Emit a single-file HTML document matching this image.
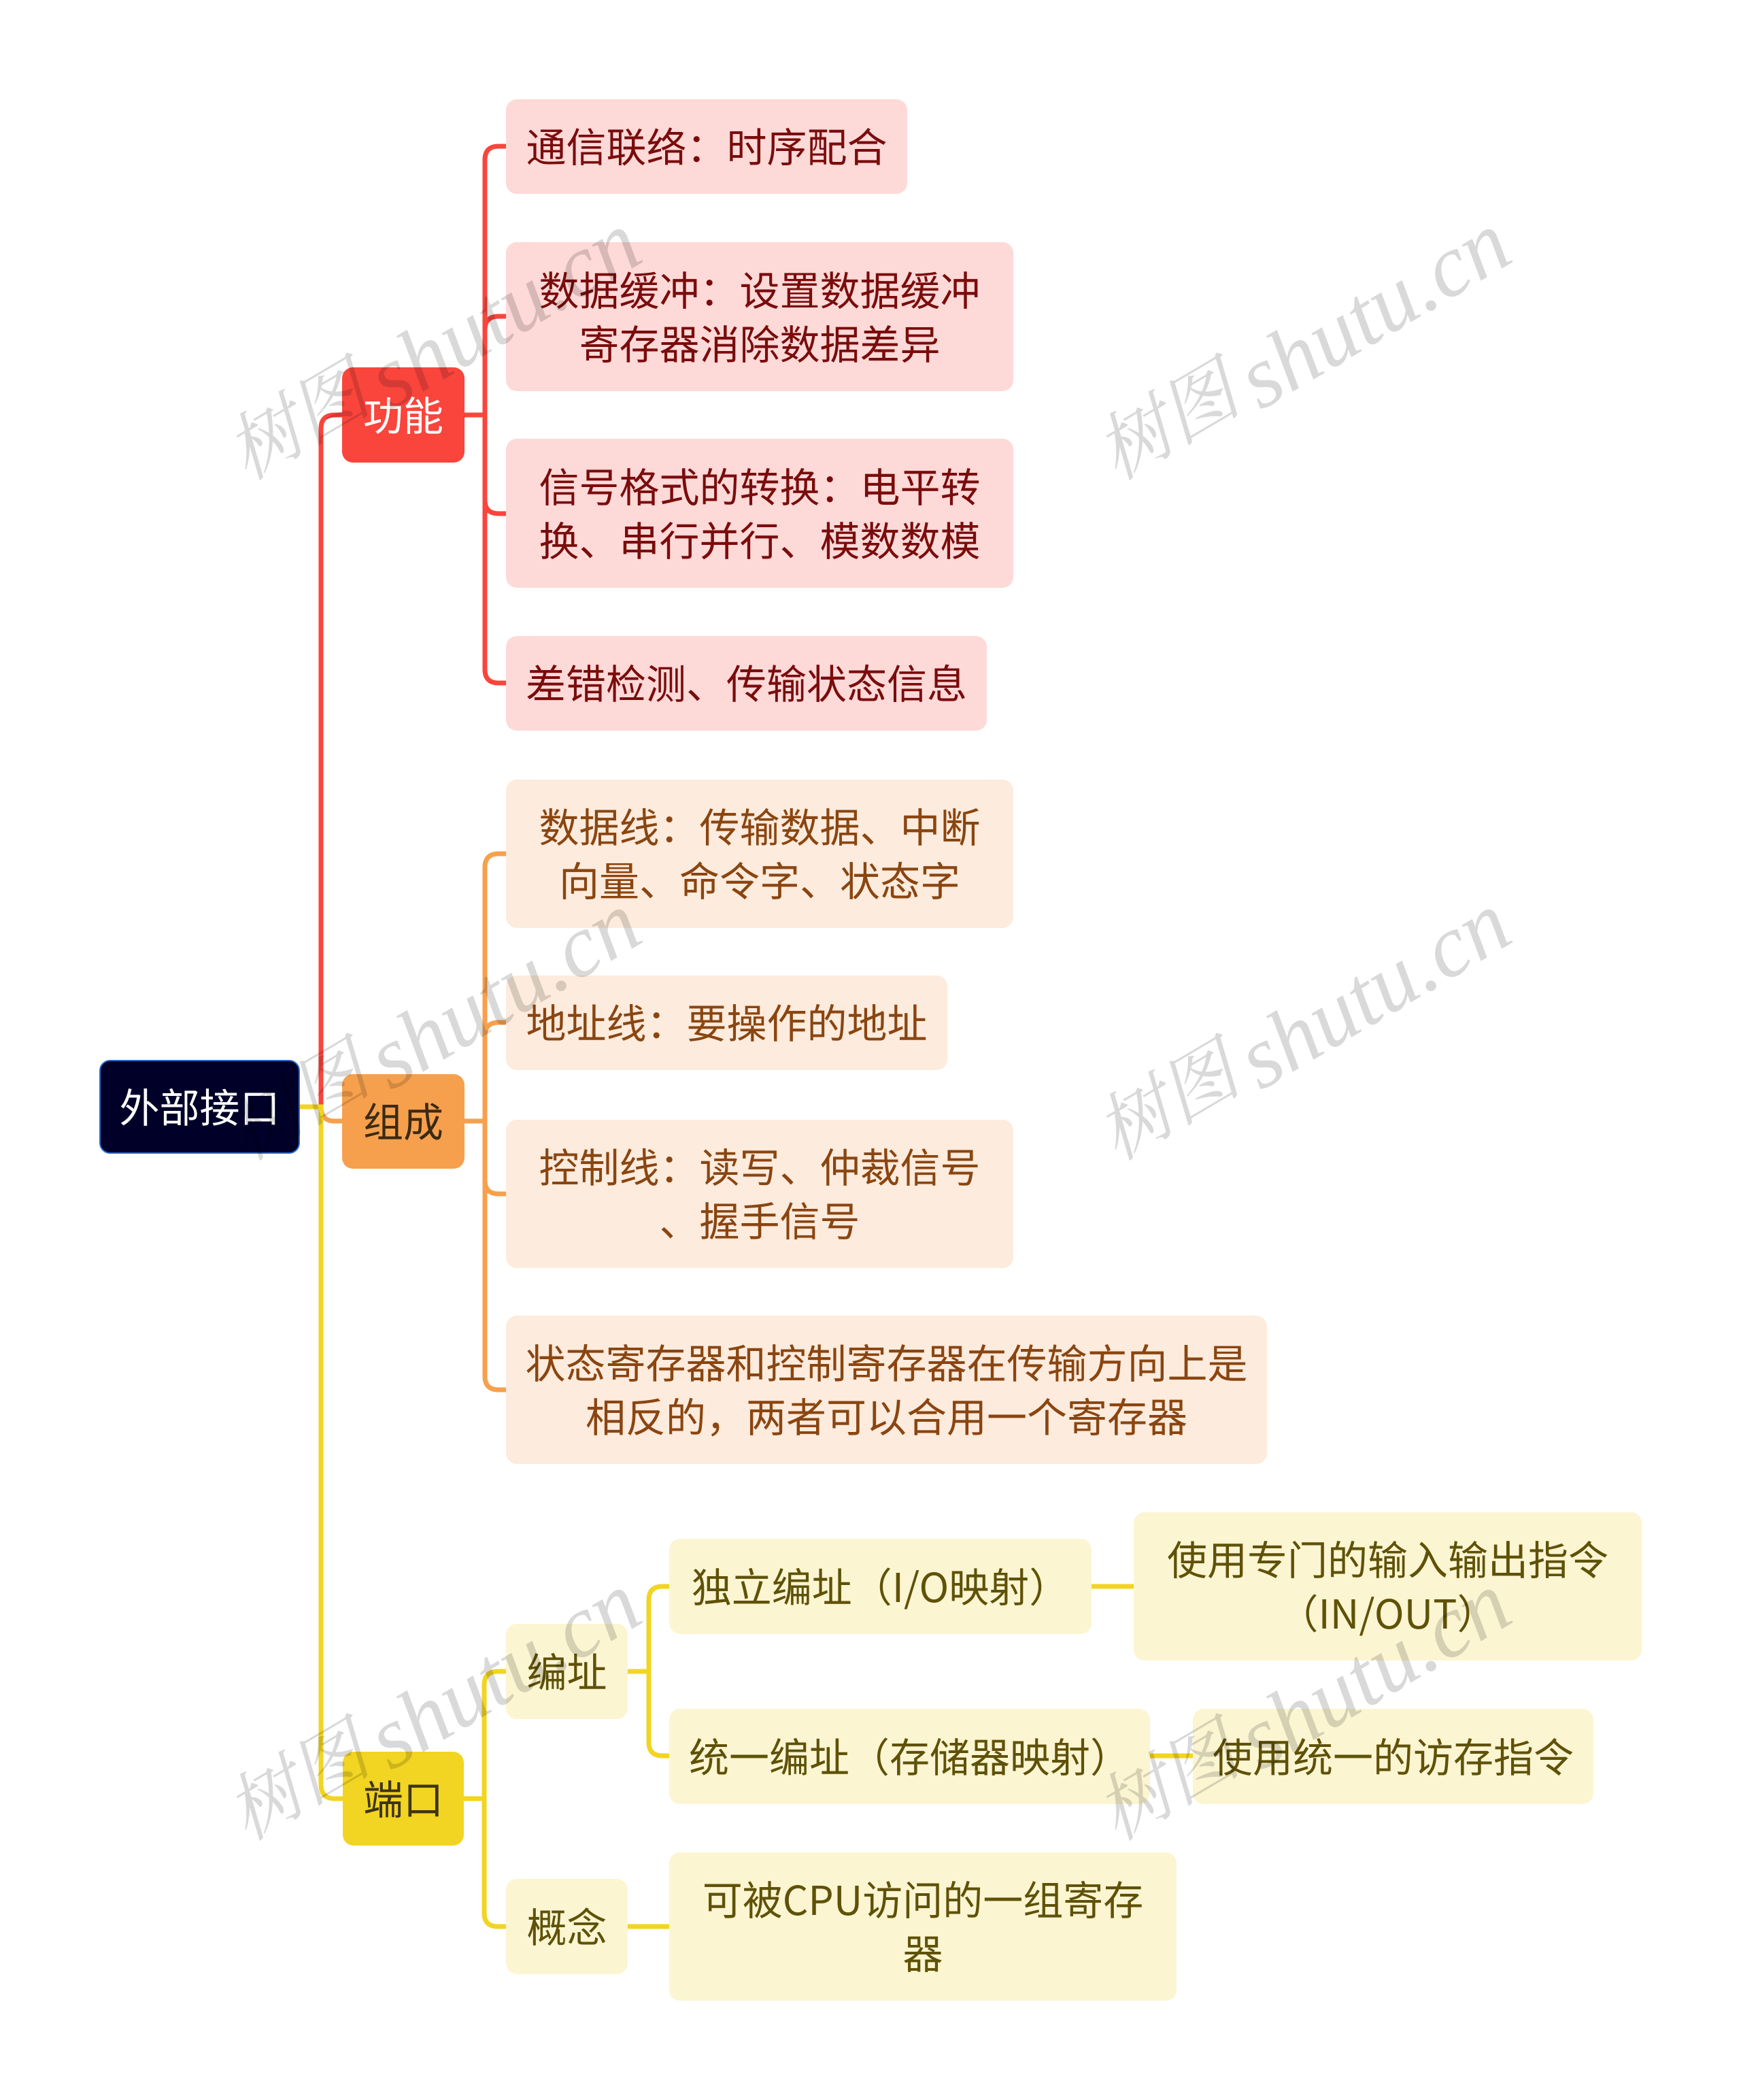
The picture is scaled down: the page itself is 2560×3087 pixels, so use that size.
<!DOCTYPE html>
<html lang="zh"><head><meta charset="utf-8"><style>
html,body{margin:0;padding:0;background:#fff}
#c{position:relative;width:2560px;height:3087px;overflow:hidden;background:#fff;font-family:"Noto Sans CJK SC","Liberation Sans",sans-serif;font-size:59px;line-height:79px}
#c svg{position:absolute;left:0;top:0}
.b{position:absolute;box-sizing:border-box;border-radius:16px;display:flex;align-items:center;justify-content:center;text-align:center;white-space:nowrap;padding-bottom:6px}
.r{background:#fdd9d8;color:#7a0c0c}.o{background:#fdebdd;color:#8a4510}.y{background:#fbf5d2;color:#5f5107}
.w{font-size:130px;font-family:"Liberation Serif",serif}
.w .k{font-size:108px;font-family:"Noto Serif CJK SC",serif}
</style></head><body><div id="c">
<svg width="2560" height="3087" fill="none" stroke-width="7">
<g stroke="#f6a04d"><path d="M472 1627Q472 1648 492 1648H503"/><path d="M683 1648H713"/><path d="M744 1255H733Q713 1255 713 1275V2023Q713 2043 733 2043H744"/><path d="M713 1523Q713 1503 733 1503H744"/><path d="M713 1735Q713 1755 733 1755H744"/></g>
<g stroke="#f9453c"><path d="M472 1627V630Q472 610 492 610H503"/><path d="M683 610H713"/><path d="M744 215H733Q713 215 713 235V984Q713 1004 733 1004H744"/><path d="M713 485Q713 465 733 465H744"/><path d="M713 735Q713 755 733 755H744"/></g>
<g stroke="#f2d422"><path d="M441 1627H472V2623Q472 2644 492 2644H504"/><path d="M682 2644H712"/><path d="M744 2457H732Q712 2457 712 2477V2812Q712 2832 732 2832H744"/><path d="M923 2457H954"/><path d="M984 2332H974Q954 2332 954 2352V2561Q954 2581 974 2581H984"/><path d="M923 2832H984"/><path d="M1605 2332H1667"/><path d="M1691 2581H1754"/></g>
</svg>
<div class="b" style="left:146px;top:1558px;width:295px;height:138px;background:#000029;border:2px solid #2a6ad0;color:#fff">外部接口</div>
<div class="b" style="left:503px;top:540px;width:180px;height:140px;background:#f9453c;color:#fff">功能</div>
<div class="b" style="left:503px;top:1579px;width:180px;height:139px;background:#f6a04d;color:#3b2a14">组成</div>
<div class="b" style="left:504px;top:2575px;width:178px;height:138px;background:#f2d422;color:#3d3512">端口</div>
<div class="b r" style="left:744px;top:146px;width:590px;height:139px">通信联络&#xFF1A;时序配合</div>
<div class="b r" style="left:744px;top:356px;width:746px;height:219px">数据缓冲&#xFF1A;设置数据缓冲<br>寄存器消除数据差异</div>
<div class="b r" style="left:744px;top:645px;width:746px;height:219px">信号格式的转换&#xFF1A;电平转<br>换、串行并行、模数数模</div>
<div class="b r" style="left:744px;top:935px;width:707px;height:139px">差错检测、传输状态信息</div>
<div class="b o" style="left:744px;top:1146px;width:746px;height:218px">数据线&#xFF1A;传输数据、中断<br>向量、命令字、状态字</div>
<div class="b o" style="left:744px;top:1434px;width:649px;height:139px">地址线&#xFF1A;要操作的地址</div>
<div class="b o" style="left:744px;top:1646px;width:746px;height:218px">控制线&#xFF1A;读写、仲裁信号<br>、握手信号</div>
<div class="b o" style="left:744px;top:1934px;width:1119px;height:218px">状态寄存器和控制寄存器在传输方向上是<br>相反的&#xFF0C;两者可以合用一个寄存器</div>
<div class="b y" style="left:744px;top:2387px;width:179px;height:140px">编址</div>
<div class="b y" style="left:744px;top:2762px;width:179px;height:140px">概念</div>
<div class="b y" style="left:984px;top:2262px;width:621px;height:140px">独立编址&#xFF08;I/O映射&#xFF09;</div>
<div class="b y" style="left:984px;top:2512px;width:707px;height:140px">统一编址&#xFF08;存储器映射&#xFF09;</div>
<div class="b y" style="left:984px;top:2723px;width:746px;height:218px">可被CPU访问的一组寄存<br>器</div>
<div class="b y" style="left:1667px;top:2223px;width:747px;height:218px">使用专门的输入输出指令<br>&#xFF08;IN/OUT&#xFF09;</div>
<div class="b y" style="left:1754px;top:2512px;width:589px;height:140px">使用统一的访存指令</div>
<svg class="w" width="2560" height="3087" font-style="italic" fill="#000" fill-opacity=".15">
<text transform="translate(360 730) rotate(-30.5)"><tspan class="k" dx="14" dy="-18">树图</tspan><tspan dx="-14" dy="18"> shutu.cn</tspan></text>
<text transform="translate(1639 730) rotate(-30.5)"><tspan class="k" dx="14" dy="-18">树图</tspan><tspan dx="-14" dy="18"> shutu.cn</tspan></text>
<text transform="translate(360 1730) rotate(-30.5)"><tspan class="k" dx="14" dy="-18">树图</tspan><tspan dx="-14" dy="18"> shutu.cn</tspan></text>
<text transform="translate(1639 1730) rotate(-30.5)"><tspan class="k" dx="14" dy="-18">树图</tspan><tspan dx="-14" dy="18"> shutu.cn</tspan></text>
<text transform="translate(360 2730) rotate(-30.5)"><tspan class="k" dx="14" dy="-18">树图</tspan><tspan dx="-14" dy="18"> shutu.cn</tspan></text>
<text transform="translate(1639 2730) rotate(-30.5)"><tspan class="k" dx="14" dy="-18">树图</tspan><tspan dx="-14" dy="18"> shutu.cn</tspan></text>
</svg>
</div></body></html>
